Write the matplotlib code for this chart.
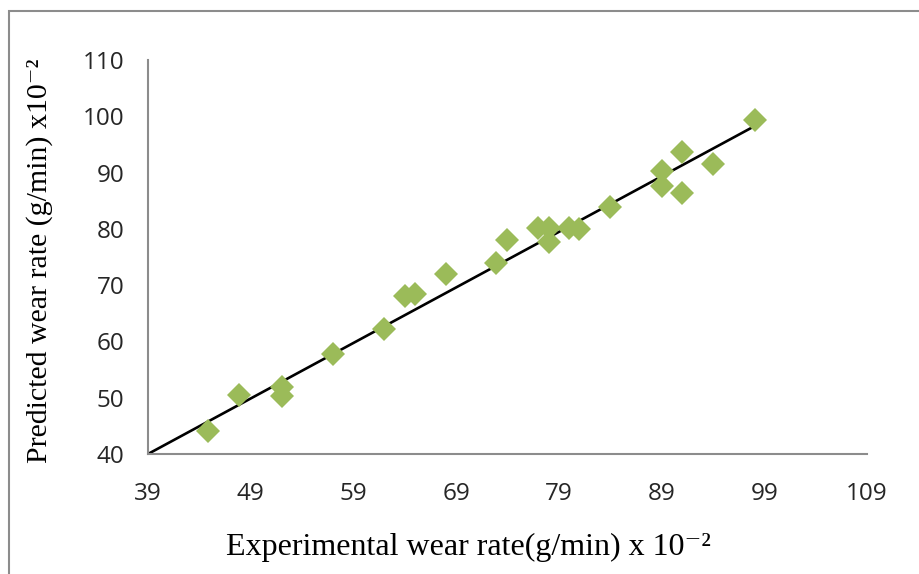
import matplotlib

matplotlib.use("Agg")
import matplotlib.pyplot as plt
from matplotlib.patches import Rectangle

# experimental vs predicted wear rate (x 10^-2 g/min)
experimental = [44.8, 47.9, 52.0, 52.0, 57.0, 62.0, 64.0, 65.0, 68.0, 72.9, 74.0,
                77.0, 78.0, 78.0, 80.0, 81.0, 84.0, 89.0, 89.0, 91.0, 91.0, 94.0, 98.1]
predicted = [44.1, 50.5, 51.9, 50.3, 57.7, 62.2, 68.1, 68.4, 72.0, 73.9, 78.0,
             80.1, 80.1, 77.7, 80.1, 80.0, 83.9, 90.3, 87.6, 93.6, 86.4, 91.5, 99.3]
fit_x = [39, 98.1]
fit_y = [40, 98.3]

x_ticks = [39, 49, 59, 69, 79, 89, 99, 109]
y_ticks = [40, 50, 60, 70, 80, 90, 100, 110]

serif = ["Liberation Serif", "DejaVu Serif"]

fig = plt.figure(figsize=(9.2, 5.74), dpi=100)
ax = fig.add_axes([148 / 920, 1 - 454 / 574, (867 - 148) / 920, (454 - 60) / 574])

ax.plot(fit_x, fit_y, color="black", linewidth=1.9, zorder=2)
ax.plot(experimental, predicted, linestyle="none", marker="D", markersize=12.5,
        color="#9BBB59", markeredgewidth=0, zorder=3)

ax.set_xlim(39, 109)
ax.set_ylim(40, 110)
ax.set_xticks(x_ticks)
ax.set_yticks(y_ticks)
ax.tick_params(length=0, labelsize=17.5)
ax.tick_params(axis="x", pad=20)
ax.tick_params(axis="y", pad=17)
for lab in ax.get_xticklabels() + ax.get_yticklabels():
    lab.set_fontfamily("Open Sans")
    lab.set_color("#262626")

for side in ["top", "right"]:
    ax.spines[side].set_visible(False)
for side in ["left", "bottom"]:
    ax.spines[side].set_color("#8c8c8c")
    ax.spines[side].set_linewidth(1.5)

fig.text(468 / 920, 1 - 547 / 574, "Experimental wear rate(g/min) x 10\u207b\u00b2",
         family=serif, fontsize=23, ha="center", va="center")
fig.text(40 / 920, 1 - 261 / 574, "Predicted wear rate (g/min) x10\u207b\u00b2",
         family=serif, fontsize=21.5, ha="center", va="center", rotation=90)

# outer chart frame
fig.patches.append(Rectangle((9 / 920, -0.1), 1.2, 1 - 11 / 574 + 0.1,
                             transform=fig.transFigure, fill=False,
                             edgecolor="#8c8c8c", linewidth=1.5))

fig.savefig("out.png", dpi=100)
